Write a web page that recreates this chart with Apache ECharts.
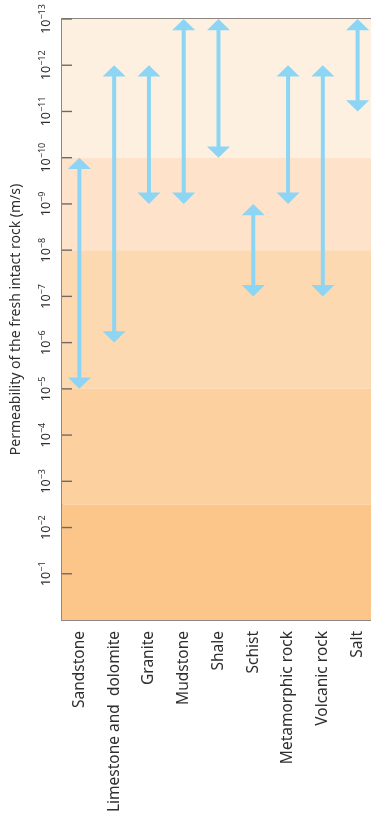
<!DOCTYPE html>
<html>
<head>
<meta charset="utf-8">
<style>
  html, body { margin: 0; padding: 0; background: #ffffff; }
  #chart { width: 371px; height: 825px; }
</style>
<script src="https://cdn.jsdelivr.net/npm/echarts@6/dist/echarts.min.js"></script>
</head>
<body>
<div id="chart"></div>
<script>
// Rock types along the horizontal axis
const categories = ['Sandstone', 'Limestone and  dolomite', 'Granite', 'Mudstone', 'Shale', 'Schist', 'Metamorphic rock', 'Volcanic rock', 'Salt'];
// Permeability range of each rock, as powers of ten (m/s)
const rangeLowExp = [-10, -12, -12, -13, -13, -9, -12, -12, -13];
const rangeHighExp = [-5, -6, -9, -9, -10, -7, -9, -7, -11];
// Exponents shown as tick labels
const tickExponents = [-13, -12, -11, -10, -9, -8, -7, -6, -5, -4, -3, -2, -1];
// Background bands (exponent edges) and their fills
const bandEdges = [-13, -10, -8, -5, -2.5, 0];
const bandColors = ['#fdf0e1', '#fee3ca', '#fdd9b2', '#fdd0a0', '#fcc68a'];

const FONT = '"Noto Sans", "Open Sans", sans-serif';
const TEXT = '#2e2e2e';
const AXIS = '#8c8783';
const TICK = '#6f6a66';
const ARROW = '#8dd5f4';

const bandData = bandColors.map((c, i) => [0, bandEdges[i], bandEdges[i + 1], i]);
const arrowData = categories.map((c, i) => [i, rangeLowExp[i], rangeHighExp[i]]);
const tickData = tickExponents.map(e => [0, e]);

const chart = echarts.init(document.getElementById('chart'), null, { renderer: 'canvas' });
chart.setOption({
  animation: false,
  backgroundColor: '#ffffff',
  grid: { left: 62, top: 19, right: -4, bottom: 205, containLabel: false, outerBoundsMode: 'none' },
  xAxis: [
    {
      type: 'category',
      data: categories,
      position: 'bottom',
      axisLine: { show: true, lineStyle: { color: AXIS, width: 2 } },
      axisTick: { show: false },
      axisLabel: {
        rotate: 90, margin: 11, interval: 0,
        fontFamily: FONT, fontSize: 15.5, color: TEXT
      },
      splitLine: { show: false }
    },
    {
      type: 'category',
      data: categories,
      position: 'top',
      axisLine: { show: true, lineStyle: { color: AXIS, width: 2 } },
      axisTick: { show: false },
      axisLabel: { show: false },
      splitLine: { show: false }
    }
  ],
  yAxis: {
    type: 'value',
    min: -13, max: 0, interval: 1,
    inverse: true,
    name: 'Permeability of the fresh intact rock (m/s)',
    nameLocation: 'middle',
    nameRotate: 90,
    nameGap: 39,
    nameTextStyle: { fontFamily: FONT, fontSize: 14, color: TEXT },
    axisLine: { show: true, lineStyle: { color: AXIS, width: 2 } },
    axisTick: { show: false },
    splitLine: { show: false },
    axisLabel: {
      rotate: 90, margin: 8,
      fontFamily: FONT, color: TEXT,
      formatter: function (v) {
        if (tickExponents.indexOf(v) < 0) return '';
        return '{b|10}{s|\u2212' + (-v) + '}';
      },
      rich: {
        b: { fontFamily: FONT, fontSize: 12.5, color: TEXT, lineHeight: 16 },
        s: { fontFamily: FONT, fontSize: 9, color: TEXT, lineHeight: 10, verticalAlign: 'top' }
      }
    }
  },
  series: [
    {
      // background permeability bands, spanning the full plot width
      type: 'custom',
      z: 1,
      silent: true,
      data: bandData,
      renderItem: function (params, api) {
        const cs = params.coordSys;
        const yA = api.coord([0, api.value(1)])[1];
        const yB = api.coord([0, api.value(2)])[1];
        return {
          type: 'rect',
          shape: { x: cs.x, y: Math.min(yA, yB), width: cs.width, height: Math.abs(yB - yA) },
          style: { fill: bandColors[api.value(3)] }
        };
      }
    },
    {
      // short inward tick marks on the permeability axis
      type: 'custom',
      z: 5,
      silent: true,
      clip: false,
      data: tickData,
      renderItem: function (params, api) {
        const cs = params.coordSys;
        const y = api.coord([0, api.value(1)])[1];
        return {
          type: 'rect',
          shape: { x: cs.x, y: y - 0.7, width: 10, height: 1.4 },
          style: { fill: TICK }
        };
      }
    },
    {
      type: 'custom',
      z: 4,
      data: arrowData,
      renderItem: function (params, api) {
        const top = api.coord([api.value(0), api.value(1)]);
        const bot = api.coord([api.value(0), api.value(2)]);
        const x = top[0], y1 = top[1], y2 = bot[1];
        const hw = 11.5, hh = 11.3, sw = 2;
        return {
          type: 'polygon',
          shape: {
            points: [
              [x, y1], [x + hw, y1 + hh], [x + sw, y1 + hh],
              [x + sw, y2 - hh], [x + hw, y2 - hh], [x, y2],
              [x - hw, y2 - hh], [x - sw, y2 - hh], [x - sw, y1 + hh],
              [x - hw, y1 + hh]
            ]
          },
          style: { fill: ARROW }
        };
      }
    }
  ]
});
</script>
</body>
</html>
